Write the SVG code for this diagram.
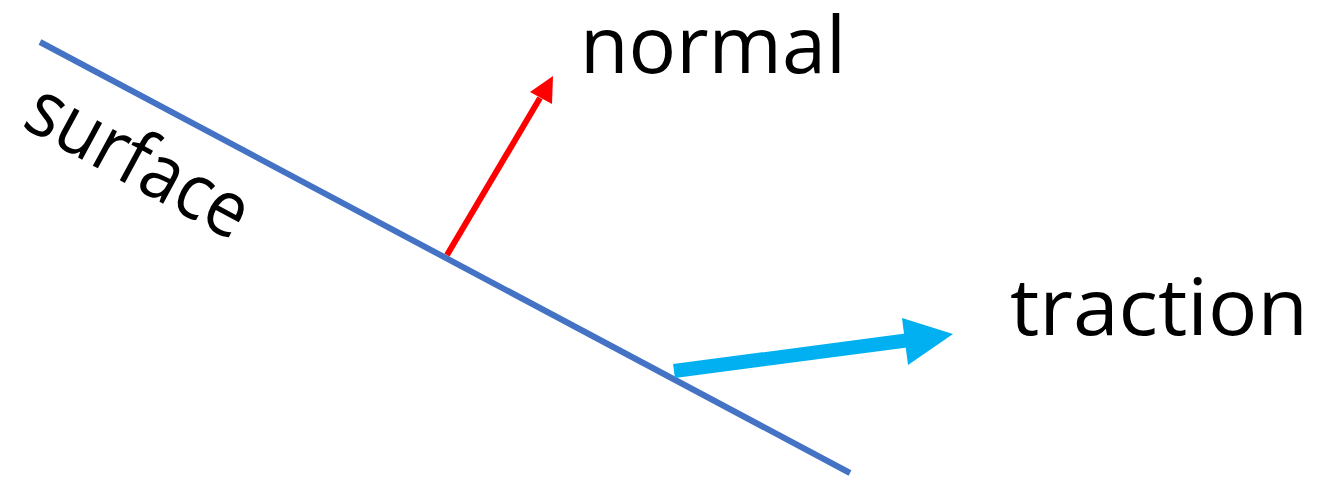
<svg xmlns="http://www.w3.org/2000/svg" width="1325" height="483" viewBox="0 0 1325 483">
<style>
.lbl{font-family:"Open Sans","Liberation Sans",sans-serif;font-size:78px;fill:#000}
</style>
<rect width="1325" height="483" fill="#fff"/>
<g id="surface">
<line x1="40" y1="42" x2="850" y2="473" stroke="#4472C4" stroke-width="6"/>
<text class="lbl" transform="translate(20,126) rotate(28.5)" textLength="242" lengthAdjust="spacingAndGlyphs">surface</text>
</g>
<g id="connectors">
<line x1="447" y1="255" x2="540" y2="98" stroke="#FF0000" stroke-width="6"/>
<polygon points="553,76 552,104 530,92" fill="#FF0000"/>
<line x1="674" y1="371" x2="910" y2="340" stroke="#00B0F0" stroke-width="14"/>
<polygon points="953,334 902,318 908,365" fill="#00B0F0"/>
</g>
<g id="normal"><text class="lbl" x="580" y="73" textLength="266" lengthAdjust="spacingAndGlyphs">normal</text></g>
<g id="traction"><text class="lbl" x="1010" y="335" textLength="298" lengthAdjust="spacingAndGlyphs">traction</text></g>
</svg>
